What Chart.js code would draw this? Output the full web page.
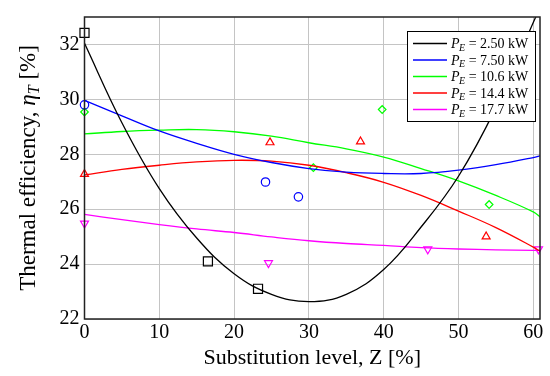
<!DOCTYPE html>
<html>
<head>
<meta charset="utf-8">
<script src="https://cdn.jsdelivr.net/npm/chart.js@4.4.0/dist/chart.umd.min.js"></script>
<style>
  html, body { margin: 0; padding: 0; background: #fff; }
  canvas { display: block; }
</style>
</head>
<body>
<canvas id="chart" width="550" height="376"></canvas>
<script>
// substitution level samples for the fitted curves [%]
const zCurve = [0, 5, 10, 15, 20, 25, 30, 35, 40, 45, 50, 55, 60, 61];

// fitted thermal efficiency curves [%]
const fit250 = [32.04, 29.15, 26.75, 24.95, 23.65, 22.9, 22.63, 22.9, 23.8, 25.35, 27.2, 29.7, 32.8, 33.4];
const fit750 = [29.96, 29.4, 28.85, 28.4, 28.0, 27.7, 27.48, 27.35, 27.3, 27.3, 27.42, 27.62, 27.88, 27.95];
const fit106 = [28.74, 28.83, 28.88, 28.9, 28.82, 28.66, 28.42, 28.2, 27.9, 27.48, 27.03, 26.5, 25.9, 25.7];
const fit144 = [27.25, 27.45, 27.6, 27.72, 27.78, 27.75, 27.6, 27.33, 26.98, 26.5, 25.93, 25.33, 24.62, 24.45];
const fit177 = [25.81, 25.62, 25.44, 25.28, 25.15, 24.99, 24.85, 24.75, 24.68, 24.6, 24.55, 24.52, 24.5, 24.5];

// measured points
const zMeas250 = [0, 16.5, 23.2];
const etaMeas250 = [32.42, 24.1, 23.1];
const zMeas750 = [0, 24.2, 28.6];
const etaMeas750 = [29.8, 26.99, 26.45];
const zMeas106 = [0, 30.6, 39.8, 54.1];
const etaMeas106 = [29.54, 27.51, 29.63, 26.17];
const zMeas144 = [0, 24.8, 36.9, 53.7];
const etaMeas144 = [27.28, 28.43, 28.46, 25.0];
const zMeas177 = [0, 24.6, 45.9, 60.7];
const etaMeas177 = [25.48, 24.04, 24.54, 24.54];

const powerLabels = ["2.50", "7.50", "10.6", "14.4", "17.7"];
const xTicks = [0, 10, 20, 30, 40, 50, 60];
const yTicks = [22, 24, 26, 28, 30, 32];

const colors = ["#000000", "#0000ff", "#00ff00", "#ff0000", "#ff00ff"];
const markers = ["rect", "circle", "rectRot", "triangle", "triangle"];
const markerSize = [6.4, 4.2, 3.8, 4.6, 4.6];
const markerRot = [0, 0, 0, 0, 180];

const fits = [fit250, fit750, fit106, fit144, fit177];
const measZ = [zMeas250, zMeas750, zMeas106, zMeas144, zMeas177];
const measEta = [etaMeas250, etaMeas750, etaMeas106, etaMeas144, etaMeas177];

const serif = "'Liberation Serif', 'DejaVu Serif', serif";

const datasets = [];
fits.forEach((fit, i) => {
  datasets.push({
    type: "line",
    data: zCurve.map((z, k) => ({ x: z, y: fit[k] })),
    borderColor: colors[i],
    borderWidth: 1.3,
    pointRadius: 0,
    tension: 0.4,
    fill: false
  });
});
measZ.forEach((zs, i) => {
  datasets.push({
    type: "scatter",
    data: zs.map((z, k) => ({ x: z, y: measEta[i][k] })),
    borderColor: colors[i],
    backgroundColor: "rgba(0,0,0,0)",
    borderWidth: 1.2,
    pointStyle: markers[i],
    pointRadius: markerSize[i],
    pointRotation: markerRot[i],
    clip: false
  });
});

// frame round the plot area
const framePlugin = {
  id: "frame",
  afterDatasetsDraw(chart) {
    const { ctx, chartArea: a } = chart;
    ctx.save();
    ctx.strokeStyle = "#222";
    ctx.lineWidth = 1.5;
    ctx.strokeRect(a.left, a.top, a.right - a.left, a.bottom - a.top);
    ctx.restore();
  }
};

// legend with P_E subscripts
const legendPlugin = {
  id: "peLegend",
  afterDraw(chart) {
    const { ctx, chartArea: a } = chart;
    const x0 = a.right - 133, y0 = a.top + 14, w = 128, h = 90;
    ctx.save();
    ctx.fillStyle = "#fff";
    ctx.fillRect(x0, y0, w, h);
    ctx.strokeStyle = "#000";
    ctx.lineWidth = 1;
    ctx.strokeRect(x0 + 0.5, y0 + 0.5, w, h);
    ctx.textBaseline = "alphabetic";
    powerLabels.forEach((p, i) => {
      const y = y0 + 12.5 + i * 16.5;
      ctx.strokeStyle = colors[i];
      ctx.lineWidth = 1.3;
      ctx.beginPath();
      ctx.moveTo(x0 + 6, y);
      ctx.lineTo(x0 + 40, y);
      ctx.stroke();
      let tx = x0 + 44;
      const base = y + 4.8;
      ctx.fillStyle = "#000";
      ctx.font = "italic 14px " + serif;
      ctx.fillText("P", tx, base);
      tx += ctx.measureText("P").width;
      ctx.font = "italic 10px " + serif;
      ctx.fillText("E", tx - 0.5, base + 2.5);
      tx += ctx.measureText("E").width + 3;
      ctx.font = "14px " + serif;
      ctx.fillText("= " + p + " kW", tx, base);
    });
    ctx.restore();
  }
};

// rotated y title with eta_T
const yTitlePlugin = {
  id: "yTitle",
  afterDraw(chart) {
    const { ctx, chartArea: a } = chart;
    const parts = [
      { t: "Thermal efficiency, ", f: "23px " + serif, dy: 0 },
      { t: "\u03b7", f: "italic 23px " + serif, dy: 0 },
      { t: "T", f: "italic 16px " + serif, dy: 4 },
      { t: " [%]", f: "23px " + serif, dy: 0 }
    ];
    ctx.save();
    let total = 0;
    parts.forEach(p => { ctx.font = p.f; p.w = ctx.measureText(p.t).width; total += p.w; });
    ctx.translate(35, (a.top + a.bottom) / 2);
    ctx.rotate(-Math.PI / 2);
    ctx.fillStyle = "#000";
    ctx.textBaseline = "alphabetic";
    let x = -total / 2;
    parts.forEach(p => {
      ctx.font = p.f;
      ctx.fillText(p.t, x, p.dy);
      x += p.w;
    });
    ctx.restore();
  }
};

new Chart(document.getElementById("chart"), {
  data: { datasets },
  options: {
    responsive: false,
    animation: false,
    devicePixelRatio: 1,
    layout: { padding: { top: 6, right: 10, left: 0, bottom: 0 } },
    plugins: {
      legend: { display: false },
      tooltip: { enabled: false }
    },
    scales: {
      x: {
        type: "linear",
        min: 0,
        max: 60.9,
        afterBuildTicks: s => { s.ticks = xTicks.map(v => ({ value: v })); },
        afterFit: s => { s.height = 57; },
        grid: { color: "#c4c4c4", lineWidth: 1, drawTicks: false },
        border: { display: false },
        ticks: { color: "#000", font: { family: serif, size: 20 }, padding: 2, maxRotation: 0 },
        title: {
          display: true,
          text: "Substitution level, Z [%]",
          color: "#000",
          font: { family: serif, size: 22 },
          padding: { top: 0, bottom: 5 }
        }
      },
      y: {
        type: "linear",
        min: 22,
        max: 33,
        afterBuildTicks: s => { s.ticks = yTicks.map(v => ({ value: v })); },
        afterFit: s => { s.width = 84.5; },
        grid: { color: "#c4c4c4", lineWidth: 1, drawTicks: false },
        border: { display: false },
        ticks: { color: "#000", font: { family: serif, size: 20 }, padding: 5 }
      }
    }
  },
  plugins: [framePlugin, legendPlugin, yTitlePlugin]
});
</script>
</body>
</html>
